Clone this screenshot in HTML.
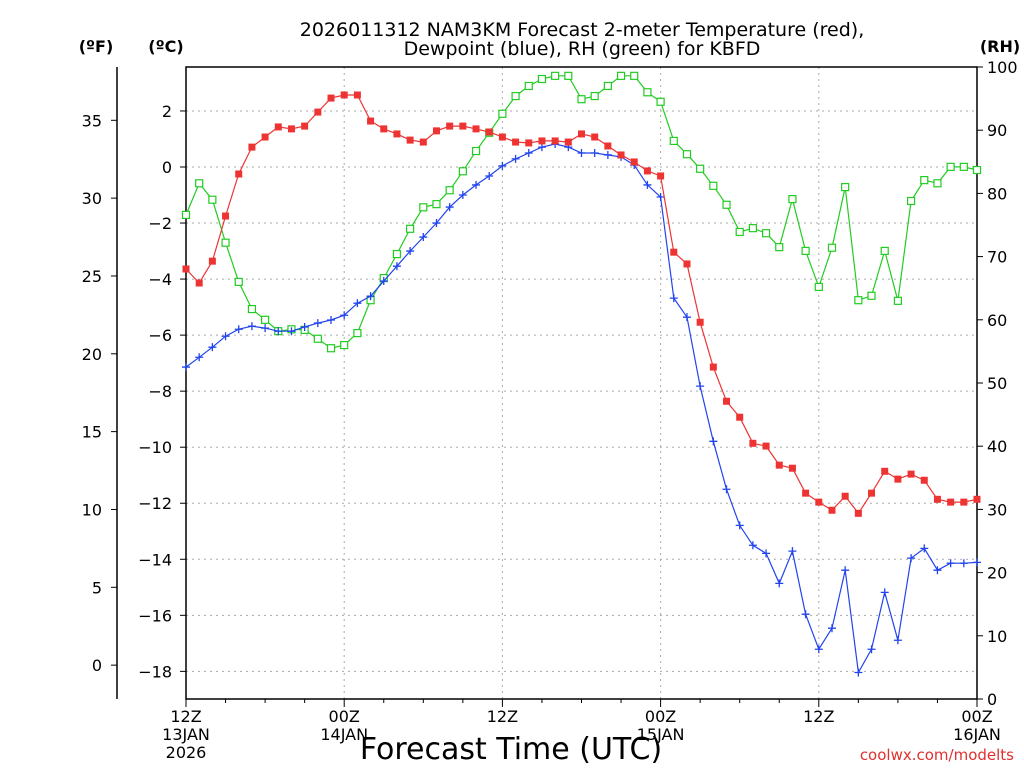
<!DOCTYPE html>
<html><head><meta charset="utf-8"><style>
html,body{margin:0;padding:0;background:#fff;}
svg{display:block;font-family:"DejaVu Sans","Liberation Sans",sans-serif;}
</style></head><body>
<svg id="chart" width="1024" height="768" xmlns="http://www.w3.org/2000/svg">
<g id="grid"></g>
<g id="axes"></g>
<g id="series"></g>
<text x="582" y="36" text-anchor="middle" font-size="19">2026011312 NAM3KM Forecast 2-meter Temperature (red),</text>
<text x="582" y="55" text-anchor="middle" font-size="19">Dewpoint (blue), RH (green) for KBFD</text>
<text x="96" y="52" text-anchor="middle" font-size="16" font-weight="bold">(ºF)</text>
<text x="166" y="52" text-anchor="middle" font-size="16" font-weight="bold">(ºC)</text>
<text x="1000" y="52" text-anchor="middle" font-size="16" font-weight="bold">(RH)</text>
<text x="511" y="759" text-anchor="middle" font-size="30">Forecast Time (UTC)</text>
<text x="1014" y="760" text-anchor="end" font-size="15" fill="#e03030">coolwx.com/modelts</text>
</svg>
<script>
const hours = [];
for (let i = 0; i <= 60; i++) hours.push(i);
const tempC = [-3.64,-4.14,-3.36,-1.75,-0.25,0.71,1.07,1.43,1.36,1.46,1.96,2.46,2.57,2.57,1.64,1.36,1.18,0.96,0.89,1.29,1.46,1.46,1.36,1.25,1.07,0.89,0.86,0.93,0.93,0.89,1.18,1.07,0.75,0.43,0.18,-0.14,-0.32,-3.04,-3.46,-5.54,-7.14,-8.36,-8.93,-9.86,-9.96,-10.64,-10.75,-11.64,-11.96,-12.25,-11.75,-12.36,-11.64,-10.86,-11.14,-10.96,-11.18,-11.86,-11.96,-11.96,-11.86];
const dewC = [-7.14,-6.79,-6.43,-6.04,-5.79,-5.68,-5.75,-5.86,-5.86,-5.71,-5.57,-5.46,-5.29,-4.86,-4.61,-4.07,-3.54,-3.0,-2.5,-2.0,-1.43,-1.0,-0.64,-0.32,0.04,0.29,0.5,0.71,0.82,0.71,0.5,0.5,0.43,0.36,0.07,-0.64,-1.07,-4.68,-5.36,-7.82,-9.79,-11.5,-12.79,-13.5,-13.79,-14.86,-13.71,-15.96,-17.21,-16.46,-14.39,-18.04,-17.21,-15.18,-16.89,-13.96,-13.61,-14.39,-14.14,-14.14,-14.11];
const rh = [76.6,81.6,79.0,72.2,66.0,61.7,60.0,58.2,58.5,58.4,57.0,55.5,56.0,57.9,63.1,66.6,70.4,74.4,77.8,78.3,80.5,83.5,86.7,89.6,92.6,95.4,97.0,98.1,98.6,98.6,94.9,95.4,97.0,98.6,98.6,96.0,94.5,88.3,86.2,83.9,81.2,78.2,73.9,74.5,73.7,71.5,79.1,70.9,65.2,71.4,81.0,63.1,63.8,70.9,63.0,78.8,82.1,81.6,84.2,84.2,83.7];
const cTicks = [2,0,-2,-4,-6,-8,-10,-12,-14,-16,-18];
const fTicks = [35,30,25,20,15,10,5,0];
const rhTicks = [0,10,20,30,40,50,60,70,80,90,100];
const xTickHours = [0,12,24,36,48,60];
const xTickLabels = [["12Z","13JAN","2026"],["00Z","14JAN"],["12Z"],["00Z","15JAN"],["12Z"],["00Z","16JAN"]];

const L=186,R=977,T=67,B=699;
const xs = h => L + h*(R-L)/60;
const yC = c => 167 - c*28.02;
const yF = f => yC((f-32)*5/9);
const yRH = r => B - r*(B-T)/100;
const NS="http://www.w3.org/2000/svg";
function mk(parent, tag, attrs){const e=document.createElementNS(NS,tag);for(const k in attrs)e.setAttribute(k,attrs[k]);document.getElementById(parent).appendChild(e);return e;}

cTicks.forEach(c=>{const e=mk('grid','line',{x1:L,x2:R,y1:yC(c),y2:yC(c),stroke:'#aaa','stroke-dasharray':'2,4'});

});
[12,24,36,48].forEach(h=>{const e=mk('grid','line',{x1:xs(h),x2:xs(h),y1:T,y2:B,stroke:'#aaa','stroke-dasharray':'2,4'});

});
const fr=mk('axes','rect',{x:L,y:T,width:R-L,height:B-T,fill:'none',stroke:'#000','stroke-width':1.5});


const fa=mk('axes','line',{x1:117,x2:117,y1:T,y2:B,stroke:'#000','stroke-width':1.5});


cTicks.forEach(c=>{const y=yC(c);mk('axes','line',{x1:L-6,x2:L,y1:y,y2:y,stroke:'#000'});
const t=mk('axes','text',{x:L-14,y:y+6,'text-anchor':'end','font-size':16});t.textContent=(c<0?'\u2212'+(-c):c);

});
fTicks.forEach(f=>{const y=yF(f);mk('axes','line',{x1:111,x2:117,y1:y,y2:y,stroke:'#000'});
const t=mk('axes','text',{x:102,y:y+6,'text-anchor':'end','font-size':16});t.textContent=f;

});
rhTicks.forEach(r=>{const y=yRH(r);mk('axes','line',{x1:R,x2:R+6,y1:y,y2:y,stroke:'#000'});
const t=mk('axes','text',{x:R+10,y:y+6,'text-anchor':'start','font-size':16});t.textContent=r;

});
for(let h=0;h<=60;h+=3){mk('axes','line',{x1:xs(h),x2:xs(h),y1:B,y2:B+(h%12?4:8),stroke:'#000'});}
xTickHours.forEach((h,i)=>{xTickLabels[i].forEach((s,j)=>{const t=mk('axes','text',{x:xs(h),y:722+j*18,'text-anchor':'middle','font-size':16});t.textContent=s;

});});

function series(vals,yf,color,marker,name){
 const pts=vals.map((v,i)=>xs(hours[i]).toFixed(1)+','+yf(v).toFixed(1)).join(' ');
 const pl=mk('series','polyline',{points:pts,fill:'none',stroke:color,'stroke-width':1.2});
 
 
 vals.forEach((v,i)=>{const x=xs(hours[i]),y=yf(v);let m;
  if(marker==='fill'){m=mk('series','rect',{x:x-3.5,y:y-3.5,width:7,height:7,fill:color});}
  else if(marker==='open'){m=mk('series','rect',{x:x-3.5,y:y-3.5,width:7,height:7,fill:'#fff',stroke:color,'stroke-width':1.2});}
  else{m=mk('series','path',{d:`M${x-4},${y}H${x+4}M${x},${y-4}V${y+4}`,stroke:color,'stroke-width':1.3});}
  
  });
}
series(rh,yRH,'#22cc22','open','rh');
series(dewC,yC,'#2244ee','plus','dewpoint');
series(tempC,yC,'#ee3333','fill','temperature');
</script>
</body></html>
